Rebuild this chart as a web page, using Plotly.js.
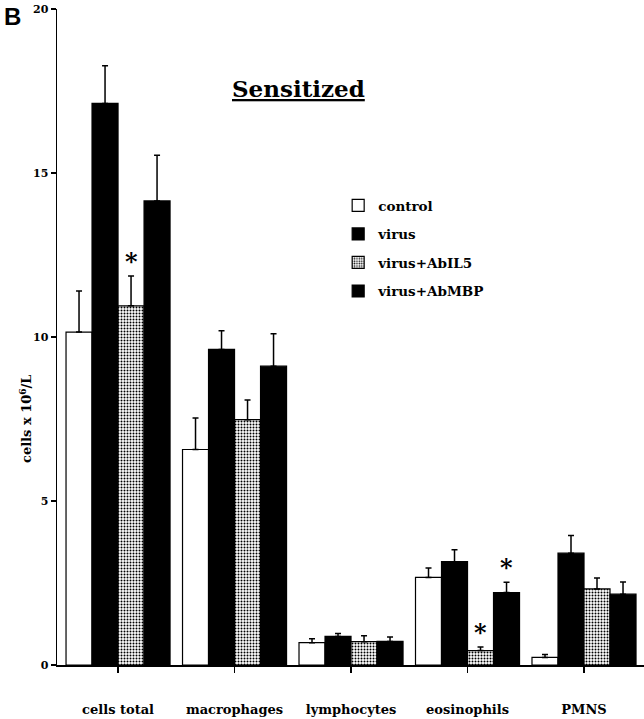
<!DOCTYPE html>
<html>
<head>
<meta charset="utf-8">
<script src="https://cdn.plot.ly/plotly-3.0.1.min.js"></script>
<style>
    html, body { margin: 0; padding: 0; background: #fff; }
    #chart { width: 644px; height: 719px; }
</style>
</head>
<body>
<div id="chart"></div>
<script>
    const cellTypes = ["cells total", "macrophages", "lymphocytes", "eosinophils", "PMNS"];

    const control = [10.15, 6.57, 0.68, 2.67, 0.23];
    const controlErr = [1.25, 0.96, 0.12, 0.29, 0.09];
    const virus = [17.12, 9.62, 0.87, 3.15, 3.41];
    const virusErr = [1.15, 0.57, 0.09, 0.36, 0.54];
    const virusAbIL5 = [10.95, 7.48, 0.71, 0.44, 2.32];
    const virusAbIL5Err = [0.91, 0.60, 0.18, 0.11, 0.33];
    const virusAbMBP = [14.15, 9.11, 0.72, 2.21, 2.16];
    const virusAbMBPErr = [1.39, 0.99, 0.13, 0.31, 0.37];

    // asterisks: [group index, category index]
    const significant = [[2, 0], [2, 3], [3, 3]];

    const serif = "DejaVu Serif, serif";
    const bargap = 0.107;

    const groups = [
        { name: "control", y: control, err: controlErr, fill: "#ffffff" },
        { name: "virus", y: virus, err: virusErr, fill: "#000000" },
        { name: "virus+AbIL5", y: virusAbIL5, err: virusAbIL5Err, fill: "#ffffff", dots: true },
        { name: "virus+AbMBP", y: virusAbMBP, err: virusAbMBPErr, fill: "#000000" }
    ];

    const traces = groups.map((g, i) => ({
        type: "bar",
        name: g.name,
        legendgroup: "g" + i,
        x: cellTypes,
        y: g.y,
        marker: {
            color: g.fill,
            line: { color: "#000", width: 1.2 },
            pattern: g.dots
                ? { shape: ".", fgcolor: "#000", bgcolor: "#fff", size: 3, solidity: 0.35 }
                : { shape: "" }
        },
        error_y: {
            type: "data",
            symmetric: false,
            array: g.err,
            arrayminus: g.err.map(() => 0),
            color: "#000",
            thickness: 1.5,
            width: 3
        }
    }));

    const barWidth = (1 - bargap) / groups.length;
    const starNotes = significant.map(([gi, ci]) => {
        const g = groups[gi];
        return {
            x: ci + (gi - 1.5) * barWidth,
            y: g.y[ci] + g.err[ci] + 0.45,
            xref: "x",
            yref: "y",
            text: "*",
            showarrow: false,
            yanchor: "middle",
            font: { family: serif, size: 24, color: "#000" }
        };
    });

    const layout = {
        width: 644,
        height: 719,
        paper_bgcolor: "#fff",
        plot_bgcolor: "#fff",
        margin: { l: 57, r: 0, t: 9, b: 54 },
        barmode: "group",
        bargap: bargap,
        bargroupgap: 0,
        font: { family: serif, color: "#000", weight: "bold" },
        showlegend: true,
        legend: {
            x: 0.479,
            y: 0.724,
            xanchor: "left",
            yanchor: "top",
            traceorder: "grouped",
            tracegroupgap: 8,
            bgcolor: "rgba(0,0,0,0)",
            font: { family: serif, size: 13.5, weight: "bold", color: "#000" }
        },
        xaxis: {
            type: "category",
            range: [-0.524, 4.515],
            showline: true,
            linecolor: "#000",
            linewidth: 1.5,
            ticks: "outside",
            ticklen: 6,
            tickwidth: 1.5,
            tickcolor: "#000",
            ticklabelstandoff: 26,
            tickfont: { family: serif, size: 13, weight: "bold", color: "#000" },
            showgrid: false,
            zeroline: false
        },
        yaxis: {
            range: [0, 20],
            tickvals: [0, 5, 10, 15, 20],
            showline: true,
            linecolor: "#000",
            linewidth: 1.5,
            ticks: "outside",
            ticklen: 5,
            tickwidth: 1.5,
            tickcolor: "#000",
            tickfont: { family: serif, size: 11, weight: "bold", color: "#000" },
            showgrid: false,
            zeroline: false
        },
        annotations: [
            {
                text: "<u>Sensitized</u>",
                xref: "paper", yref: "paper",
                x: (298 - 57) / 587, y: (664.7 - 88) / 656,
                xanchor: "center", yanchor: "middle",
                showarrow: false,
                font: { family: serif, size: 23, weight: "bold", color: "#000" }
            },
            {
                text: "cells x 10<sup>6</sup>/L",
                xref: "paper", yref: "y",
                x: (25 - 57) / 587, y: 7.5,
                xanchor: "center", yanchor: "middle",
                textangle: -90,
                showarrow: false,
                font: { family: serif, size: 13, weight: "bold", color: "#000" }
            },
            {
                text: "B",
                xref: "paper", yref: "paper",
                x: (2 - 57) / 587, y: (664.7 - 1) / 656,
                xanchor: "left", yanchor: "top",
                showarrow: false,
                font: { family: "Liberation Sans, Arial, sans-serif", size: 24, weight: "bold", color: "#000" }
            }
        ].concat(starNotes)
    };

    Plotly.newPlot("chart", traces, layout, { displayModeBar: false, staticPlot: true });
</script>
</body>
</html>
